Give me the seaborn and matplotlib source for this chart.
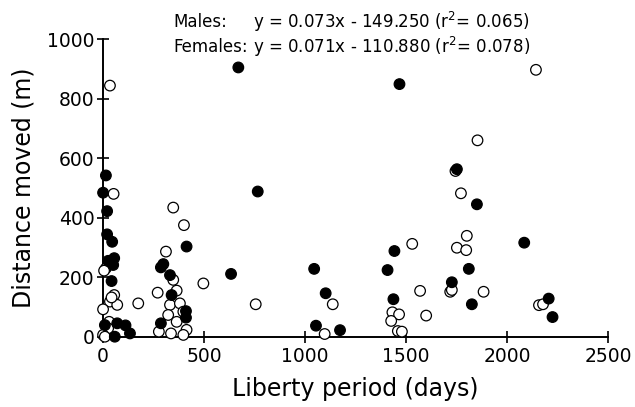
import pandas as pd
import numpy as np
import matplotlib.pyplot as plt
import seaborn as sns

# DATA
male_days = [15, 1, 21, 21, 46, 56, 26, 51, 43, 414, 299, 287, 332, 340, 411, 411,
             634, 287, 71, 112, 134, 59, 10, 670, 766, 1045, 1102, 1054, 1173,
             1751, 1850, 1442, 1408, 1437, 1810, 1726, 1825, 1467, 2084, 2205, 2224]
male_dist = [543, 485, 423, 345, 320, 265, 256, 242, 188, 304, 245, 234, 208, 141, 87, 65,
             212, 46, 46, 39, 12, 1, 40, 906, 489, 229, 147, 38, 23,
             564, 446, 289, 225, 127, 229, 184, 110, 850, 317, 129, 67]

female_days = [35, 53, 348, 401, 312, 15, 6, 497, 348, 365, 271, 175, 56, 35, 71, 1,
               43, 332, 381, 398, 323, 365, 414, 277, 337, 398, 31, 26, 1, 10,
               756, 1137, 1097, 1530, 1569, 1599, 1432, 1465, 1426, 1459, 1479,
               1771, 1744, 1800, 1751, 1797, 1718, 1726, 1883, 2142, 1853, 2157, 2177]
female_dist = [845, 481, 435, 376, 287, 231, 223, 180, 192, 156, 149, 113, 141, 119, 108, 93,
               133, 108, 113, 85, 74, 51, 24, 18, 12, 7, 51, 29, 7, 1,
               110, 110, 10, 313, 155, 72, 83, 76, 54, 20, 18,
               483, 558, 340, 300, 292, 152, 158, 152, 898, 661, 107, 110]

eq_names = ["Males:", "Females:"]
eq_lines = ["y = 0.073x - 149.250 (r$^2$= 0.065)",
            "y = 0.071x - 110.880 (r$^2$= 0.078)"]

df = pd.concat([
    pd.DataFrame({"days": female_days, "dist": female_dist, "sex": "Females"}),
    pd.DataFrame({"days": male_days, "dist": male_dist, "sex": "Males"}),
], ignore_index=True)

sns.set_style("white")
plt.rcParams["font.family"] = ["DejaVu Sans"]
plt.rcParams["text.color"] = "black"
plt.rcParams["axes.labelcolor"] = "black"

fig = plt.figure(figsize=(6.35, 4.07), dpi=100)
ax = fig.add_axes([0.162, 0.172, 0.796, 0.731])

sns.scatterplot(data=df, x="days", y="dist", hue="sex",
                palette={"Females": "white", "Males": "black"},
                edgecolor="black", linewidth=0.9, s=58, legend=False,
                clip_on=False, zorder=3, ax=ax)

ax.set_xlim(0, 2500)
ax.set_ylim(0, 1000)
ax.set_xticks([0, 500, 1000, 1500, 2000, 2500])
ax.set_yticks([0, 200, 400, 600, 800, 1000])
ax.tick_params(bottom=True, left=True, direction="inout", length=8.3, width=1.2,
               labelsize=13.5, colors="black")
ax.tick_params(axis="x", pad=3)
ax.tick_params(axis="y", pad=2)
for side in ["top", "right"]:
    ax.spines[side].set_visible(False)
for side in ["left", "bottom"]:
    ax.spines[side].set_color("black")
    ax.spines[side].set_linewidth(1.4)

ax.set_xlabel("Liberty period (days)", fontsize=17, labelpad=8)
ax.set_ylabel("Distance moved (m)", fontsize=17, labelpad=8)

for i, (name, line) in enumerate(zip(eq_names, eq_lines)):
    yy = 0.947 - i * 0.0615
    fig.text(0.2724, yy, name, fontsize=12, ha="left", va="center", color="black")
    fig.text(0.399, yy, line, fontsize=12, ha="left", va="center", color="black")

plt.savefig("out.png", dpi=100)
